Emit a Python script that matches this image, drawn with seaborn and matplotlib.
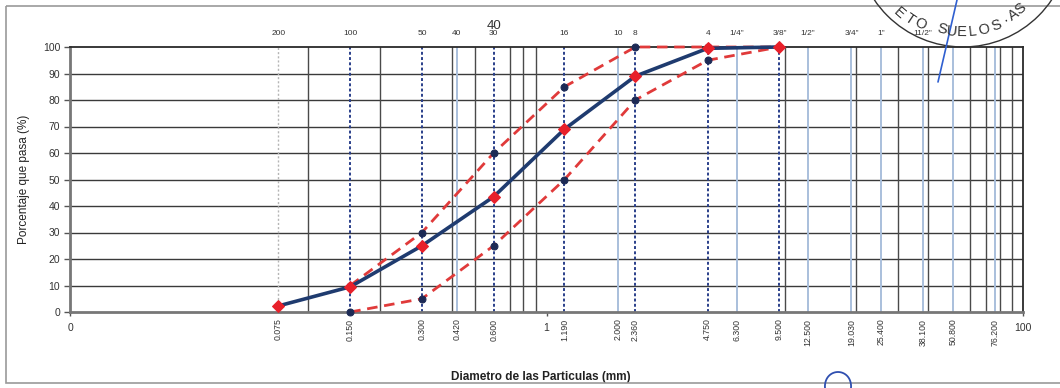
import numpy as np
import pandas as pd
import matplotlib
matplotlib.use("Agg")
import matplotlib.pyplot as plt
import seaborn as sns
from matplotlib.patches import Circle, Rectangle
from matplotlib.transforms import blended_transform_factory

# ---------------- data ----------------
sizes = [0.075, 0.150, 0.300, 0.600, 1.190, 2.360, 4.750, 9.500]
passing = [2.3, 9.5, 25.0, 43.5, 69.0, 89.0, 99.5, 100.0]

lim_sizes = [0.150, 0.300, 0.600, 1.190, 2.360, 4.750, 9.500]
upper = [10, 30, 60, 85, 100, 100, 100]
lower = [0, 5, 25, 50, 80, 95, 100]

sieve_sizes = [0.075, 0.150, 0.300, 0.420, 0.600, 1.190, 2.000, 2.360, 4.750,
               6.300, 9.500, 12.500, 19.050, 25.400, 38.100, 50.800, 76.200]
sieve_mm_labels = ["0.075", "0.150", "0.300", "0.420", "0.600", "1.190", "2.000",
                   "2.360", "4.750", "6.300", "9.500", "12.500", "19.030",
                   "25.400", "38.100", "50.800", "76.200"]
sieve_names = ["200", "100", "50", "40", "30", "16", "10", "8", "4",
               '1/4"', '3/8"', '1/2"', '3/4"', '1"', '11/2"']

main_sieves = [0.150, 0.300, 0.600, 1.190, 2.360, 4.750, 9.500]
light_sieves = [0.420, 2.000, 6.300, 12.500, 19.050, 25.400, 38.100, 50.800, 76.200]
grid_x = [0.1, 0.2, 0.4, 0.5, 0.7, 0.8, 0.9, 10, 20, 30, 40, 60, 70, 80, 90]

# ---------------- style ----------------
sns.set_style("white")
plt.rcParams['font.family'] = ['Liberation Sans', 'DejaVu Sans']

fig = plt.figure(figsize=(10.6, 3.88), dpi=100)
W, H = 1060, 388
ax = fig.add_axes([70 / W, 1 - 312 / H, (1023 - 70) / W, (312 - 47) / H])

ax.set_xscale("log")
ax.set_xlim(0.01, 100)
ax.set_ylim(0, 100)

# horizontal grid
for yv in range(10, 100, 10):
    ax.axhline(yv, color="#3a3a3a", lw=1.0, zorder=1)
# vertical grid
for xv in grid_x:
    ax.axvline(xv, color="#4a4a4a", lw=1.0, zorder=1)
for xv in light_sieves:
    ax.axvline(xv, color="#a9bfdc", lw=1.4, zorder=1)
ax.axvline(0.075, color="#b5b5b5", lw=1.0, ls=(0, (1.5, 1.5)), zorder=1)
for xv in main_sieves:
    ax.axvline(xv, color="#2a3f8a", lw=1.4, ls=(0, (1.5, 1.2)), zorder=1)

# limit curves
df_up = pd.DataFrame({"size": lim_sizes, "pct": upper})
df_lo = pd.DataFrame({"size": lim_sizes, "pct": lower})
df_main = pd.DataFrame({"size": sizes, "pct": passing})

for d in (df_up, df_lo):
    sns.lineplot(data=d, x="size", y="pct", ax=ax, color="#e03a3a", lw=2.0,
                 ls=(0, (3.8, 2.4)), marker="o", markersize=5,
                 markerfacecolor="#1c2a55", markeredgecolor="#1c2a55",
                 zorder=4, clip_on=False)

sns.lineplot(data=df_main, x="size", y="pct", ax=ax, color="#1f3b6f", lw=2.6,
             marker="D", markersize=6.2, markerfacecolor="#e8202a",
             markeredgecolor="#e8202a", zorder=5, clip_on=False)

# axes cosmetics
for s in ["top", "right"]:
    ax.spines[s].set_color("#2a2a2a")
    ax.spines[s].set_linewidth(1.3)
for s in ["left", "bottom"]:
    ax.spines[s].set_color("#777777")
    ax.spines[s].set_linewidth(2.0)

ax.set_yticks(range(0, 101, 10))
ax.set_yticklabels([str(v) for v in range(0, 101, 10)], fontsize=7.5, color="#333333")
ax.tick_params(axis="y", length=4, width=1, color="#555555", pad=3, left=True)
ax.set_xticks([0.01, 1, 100])
ax.set_xticklabels(["0", "1", "100"], fontsize=7.5, color="#333333")
ax.xaxis.set_minor_locator(matplotlib.ticker.NullLocator())
ax.tick_params(axis="x", length=3, width=1, color="#555555", pad=5, bottom=True)
ax.set_xlabel("")
ax.set_ylabel("Porcentaje que pasa (%)", fontsize=8.5, color="#222222", labelpad=9)

trans = blended_transform_factory(ax.transData, ax.transAxes)
# bottom rotated size labels
for xv, lab in zip(sieve_sizes, sieve_mm_labels):
    ax.text(xv, -0.025, lab, transform=trans, rotation=90, ha="center", va="top",
            fontsize=6.3, color="#333333")
# top sieve names
for xv, lab in zip(sieve_sizes, sieve_names):
    ax.text(xv, 1.05, lab, transform=trans, ha="center", va="center",
            fontsize=6, color="#333333")
ax.text(0.600, 1.08, "40", transform=trans, ha="center", va="center",
        fontsize=9.5, color="#333333")

fig.text(541 / W, 1 - 377 / H, "Diametro de las Particulas (mm)", ha="center",
         va="center", fontsize=8.5, fontweight="bold", color="#222222")

# ---------------- overlay: frame, stamp, pen marks ----------------
ov = fig.add_axes([0, 0, 1, 1], zorder=10)
ov.set_xlim(0, W)
ov.set_ylim(H, 0)
ov.axis("off")
ov.patch.set_alpha(0)
ov.add_patch(Rectangle((6, 6), 1060, 377, fill=False, ec="#9a9a9a", lw=1.2))

cx, cy, r = 963, -60, 107
ov.add_patch(Circle((cx, cy), r, fill=False, ec="#333333", lw=1.0))
stamp = [("E", 131, 97), ("T", 124, 95), ("O", 117, 94),
         ("S", 103, 92), ("U", 97, 92), ("E", 91, 92), ("L", 84, 92),
         ("O", 77, 92), ("S", 69, 92),
         ("·", 62, 91), ("A", 56, 90), ("S", 50, 90)]
for ch, th, rr in stamp:
    t = np.deg2rad(th)
    ov.text(cx + rr * np.cos(t), cy + rr * np.sin(t), ch, rotation=90 - th,
            ha="center", va="center", fontsize=10.5, color="#333333")
ov.plot([957, 938], [0, 82], color="#2f5fd0", lw=1.2)
tt = np.linspace(0, np.pi, 40)
ov.plot(838 + 13 * np.cos(tt) * (1 + 0.1 * np.sin(tt)), 388 - 16 * np.sin(tt),
        color="#2f4fb0", lw=1.3)

fig.savefig("out.png", dpi=100)
